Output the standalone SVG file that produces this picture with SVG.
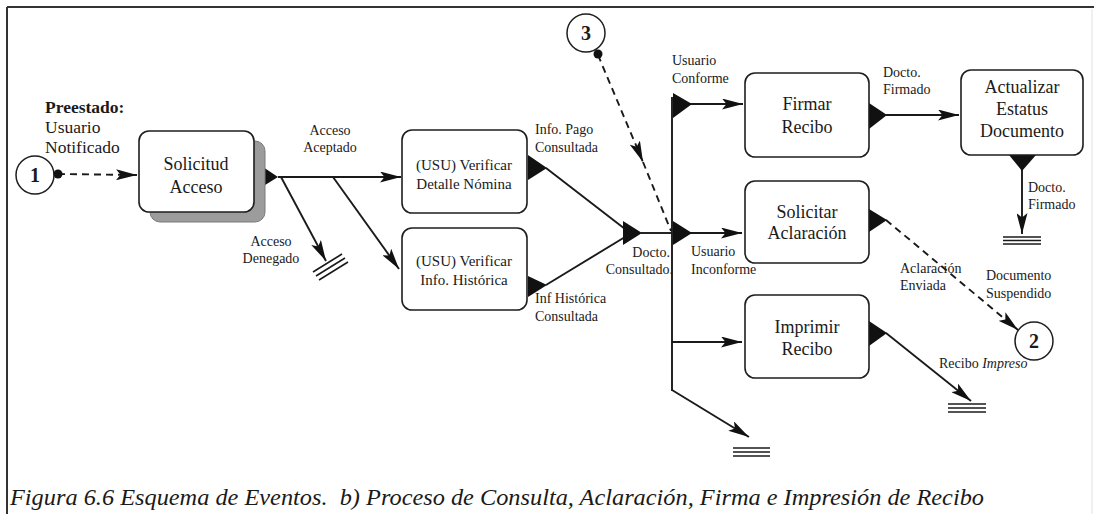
<svg xmlns="http://www.w3.org/2000/svg" width="1094" height="514" viewBox="0 0 1094 514">
<style>
.box{fill:#fff;stroke:#1e1e1e;stroke-width:1.6}
.shadow{fill:#9c9c9c;stroke:#7a7a7a;stroke-width:1}
.ln{fill:none;stroke:#1a1a1a;stroke-width:1.9}
.dash{fill:none;stroke:#1a1a1a;stroke-width:1.9;stroke-dasharray:7 5}
.bar{stroke:#1a1a1a;stroke-width:1.6}
.tri{fill:#111}
.circ{fill:#fff;stroke:#1e1e1e;stroke-width:1.5}
.big{font-family:"Liberation Serif","Times New Roman",serif;font-size:18px;fill:#1a1a1a;text-anchor:middle}
.mid{font-family:"Liberation Serif","Times New Roman",serif;font-size:15px;fill:#1a1a1a;text-anchor:middle}
.lbl{font-family:"Liberation Serif","Times New Roman",serif;font-size:14px;fill:#1a1a1a}
.num{font-family:"Liberation Serif","Times New Roman",serif;font-size:20px;font-weight:bold;fill:#1a1a1a;text-anchor:middle}
.pre{font-family:"Liberation Serif","Times New Roman",serif;font-size:17.5px;fill:#1a1a1a}
.cap{font-family:"Liberation Serif","Times New Roman",serif;font-size:23px;font-style:italic;fill:#1a1a1a}
</style>
<defs>
<marker id="ah" viewBox="0 0 21 11" refX="21" refY="5.5" markerWidth="21" markerHeight="11" markerUnits="userSpaceOnUse" orient="auto">
<path d="M0,0 L21,5.5 L0,11 L4.5,5.5 z" fill="#111"/>
</marker>
</defs>
<rect width="1094" height="514" fill="#fff"/>
<g id="frame">
<line x1="7" y1="7" x2="1094" y2="7" stroke="#333" stroke-width="2"/>
<line x1="7" y1="7" x2="7" y2="514" stroke="#333" stroke-width="2"/>
<line x1="1092" y1="9" x2="1092" y2="514" stroke="#e2e2e2" stroke-width="1"/>
</g>

<g id="connectors">
<line class="dash" x1="58" y1="174" x2="137" y2="175" marker-end="url(#ah)"/>
<line class="ln" x1="278" y1="177" x2="401" y2="177" marker-end="url(#ah)"/>
<line class="ln" x1="281" y1="177" x2="326" y2="261" marker-end="url(#ah)"/>
<line class="ln" x1="333" y1="177" x2="399" y2="269" marker-end="url(#ah)"/>
<line class="ln" x1="546" y1="168" x2="625" y2="229"/>
<line class="ln" x1="546" y1="285" x2="625" y2="237"/>
<line class="ln" x1="641" y1="233" x2="672" y2="233"/>
<line class="dash" x1="598" y1="55" x2="643" y2="162" marker-end="url(#ah)"/>
<line class="dash" x1="643" y1="162" x2="671" y2="231"/>
<line class="ln" x1="672" y1="97" x2="672" y2="391"/>
<line class="ln" x1="690" y1="104" x2="743" y2="104" marker-end="url(#ah)"/>
<line class="ln" x1="690" y1="233" x2="742" y2="233" marker-end="url(#ah)"/>
<line class="ln" x1="672" y1="342" x2="742" y2="342" marker-end="url(#ah)"/>
<line class="ln" x1="672" y1="390" x2="749" y2="437" marker-end="url(#ah)"/>
<line class="ln" x1="886" y1="115" x2="959" y2="115" marker-end="url(#ah)"/>
<line class="ln" x1="1022" y1="169" x2="1022" y2="234" marker-end="url(#ah)"/>
<line class="dash" x1="886" y1="220" x2="1018" y2="330" marker-end="url(#ah)"/>
<line class="ln" x1="886" y1="333" x2="971" y2="401" marker-end="url(#ah)"/>
<g id="bar-denegado">
<line class="bar" x1="313" y1="272" x2="342" y2="254"/>
<line class="bar" x1="316" y1="276" x2="345" y2="258"/>
<line class="bar" x1="319" y1="280" x2="348" y2="262"/>
</g>
<g id="bar-firmado">
<line class="bar" x1="1003" y1="237" x2="1041" y2="237"/>
<line class="bar" x1="1003" y1="240.5" x2="1041" y2="240.5"/>
<line class="bar" x1="1003" y1="244" x2="1041" y2="244"/>
</g>
<g id="bar-impreso">
<line class="bar" x1="948" y1="404" x2="986" y2="404"/>
<line class="bar" x1="948" y1="408" x2="986" y2="408"/>
<line class="bar" x1="948" y1="412" x2="986" y2="412"/>
</g>
<g id="bar-fin">
<line class="bar" x1="733" y1="448" x2="770" y2="448"/>
<line class="bar" x1="733" y1="452" x2="770" y2="452"/>
<line class="bar" x1="733" y1="456" x2="770" y2="456"/>
</g>
<polygon class="tri" points="257,163 278,177 257,190"/>
<polygon class="tri" points="528,155 547,168 528,180"/>
<polygon class="tri" points="528,276 547,285 528,297"/>
<polygon class="tri" points="623,221 642,233 623,245"/>
<polygon class="tri" points="673,93 692,104 673,118"/>
<polygon class="tri" points="673,221 692,233 673,245"/>
<polygon class="tri" points="869,103 887,115 869,129"/>
<polygon class="tri" points="1009,155 1022,171 1036,155"/>
<polygon class="tri" points="869,209 887,220 869,232"/>
<polygon class="tri" points="869,321 887,333 869,346"/>
<text class="lbl" x="330" y="135" text-anchor="middle">Acceso</text>
<text class="lbl" x="330" y="152" text-anchor="middle">Aceptado</text>
<text class="lbl" x="271" y="246" text-anchor="middle">Acceso</text>
<text class="lbl" x="271" y="263" text-anchor="middle">Denegado</text>
<text class="lbl" x="535" y="134">Info. Pago</text>
<text class="lbl" x="535" y="152">Consultada</text>
<text class="lbl" x="535" y="303">Inf Histórica</text>
<text class="lbl" x="535" y="321">Consultada</text>
<text class="lbl" x="670" y="257" text-anchor="end">Docto.</text>
<text class="lbl" x="673" y="274" text-anchor="end">Consultado.</text>
<text class="lbl" x="672" y="65">Usuario</text>
<text class="lbl" x="672" y="83">Conforme</text>
<text class="lbl" x="691" y="256">Usuario</text>
<text class="lbl" x="691" y="274">Inconforme</text>
<text class="lbl" x="883" y="77">Docto.</text>
<text class="lbl" x="883" y="94">Firmado</text>
<text class="lbl" x="1028" y="192">Docto.</text>
<text class="lbl" x="1028" y="209">Firmado</text>
<text class="lbl" x="900" y="273">Aclaración</text>
<text class="lbl" x="900" y="290">Enviada</text>
<text class="lbl" x="986" y="280">Documento</text>
<text class="lbl" x="986" y="298">Suspendido</text>
<text class="lbl" x="939" y="368">Recibo <tspan font-style="italic">Impreso</tspan></text>
</g>

<g id="preestado">
<text class="pre" x="45" y="113" font-weight="bold">Preestado:</text>
<text class="pre" x="45" y="133">Usuario</text>
<text class="pre" x="45" y="153">Notificado</text>
</g>

<g id="event-1">
<circle class="circ" cx="35" cy="175" r="19"/>
<text class="num" x="35" y="182">1</text>
<circle cx="58" cy="174" r="4.5" fill="#111"/>
</g>

<g id="event-3">
<circle class="circ" cx="586" cy="33" r="19"/>
<text class="num" x="586" y="40">3</text>
<circle cx="598" cy="54" r="4.5" fill="#111"/>
</g>

<g id="event-2">
<circle class="circ" cx="1034" cy="341" r="19"/>
<text class="num" x="1034" y="348">2</text>
</g>

<g id="solicitud-acceso">
<rect class="shadow" x="150" y="141" width="115" height="81" rx="10"/>
<rect class="box" x="139" y="131" width="115" height="81" rx="10"/>
<text class="big" x="196" y="170">Solicitud</text>
<text class="big" x="196" y="193">Acceso</text>
</g>

<g id="verificar-detalle">
<rect class="box" x="402" y="130" width="125" height="83" rx="10"/>
<text class="mid" x="464" y="170">(USU) Verificar</text>
<text class="mid" x="464" y="189">Detalle Nómina</text>
</g>

<g id="verificar-historica">
<rect class="box" x="402" y="228" width="125" height="82" rx="10"/>
<text class="mid" x="464" y="266">(USU) Verificar</text>
<text class="mid" x="464" y="285">Info. Histórica</text>
</g>

<g id="firmar-recibo">
<rect class="box" x="745" y="73" width="124" height="84" rx="10"/>
<text class="big" x="807" y="110">Firmar</text>
<text class="big" x="807" y="133">Recibo</text>
</g>

<g id="actualizar-estatus">
<rect class="box" x="961" y="70" width="122" height="85" rx="10"/>
<text class="big" x="1022" y="93">Actualizar</text>
<text class="big" x="1022" y="115">Estatus</text>
<text class="big" x="1022" y="137">Documento</text>
</g>

<g id="solicitar-aclaracion">
<rect class="box" x="745" y="181" width="124" height="82" rx="10"/>
<text class="big" x="807" y="218">Solicitar</text>
<text class="big" x="807" y="239">Aclaración</text>
</g>

<g id="imprimir-recibo">
<rect class="box" x="745" y="295" width="124" height="83" rx="10"/>
<text class="big" x="807" y="333">Imprimir</text>
<text class="big" x="807" y="355">Recibo</text>
</g>

<g id="caption">
<text class="cap" x="10" y="505" xml:space="preserve" textLength="974" lengthAdjust="spacingAndGlyphs">Figura 6.6 Esquema de Eventos.  b) Proceso de Consulta, Aclaración, Firma e Impresión de Recibo</text>
</g>
</svg>
